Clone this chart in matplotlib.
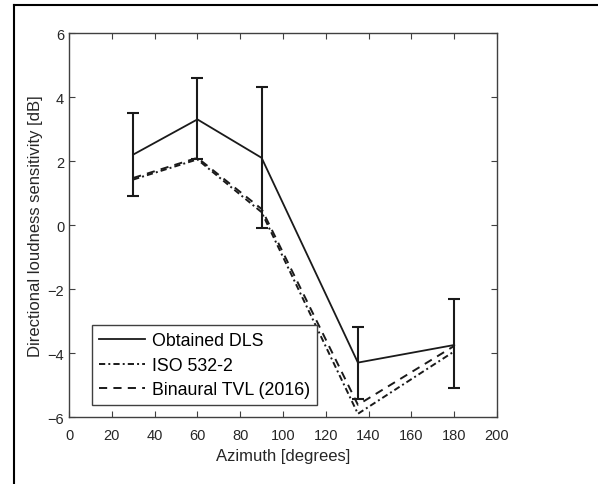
import matplotlib
matplotlib.use("Agg")
import matplotlib.pyplot as plt
from matplotlib.lines import Line2D

plt.rcParams['font.family'] = ['Liberation Sans', 'DejaVu Sans']

# 数据
azimuth = [30, 60, 90, 135, 180]
obtained = [2.2, 3.3, 2.1, -4.3, -3.75]
err_low = [0.9, 2.05, -0.1, -5.45, -5.1]
err_high = [3.5, 4.6, 4.3, -3.2, -2.3]
iso = [1.42, 2.05, 0.4, -5.9, -3.95]
binaural = [1.47, 2.1, 0.5, -5.62, -3.78]

fig = plt.figure(figsize=(5.98, 4.85), dpi=100)
ax = fig.add_axes([69 / 598, 1 - 418 / 485, 428 / 598, 384 / 485])

yerr = [[o - lo for o, lo in zip(obtained, err_low)],
        [hi - o for o, hi in zip(obtained, err_high)]]
ax.errorbar(azimuth, obtained, yerr=yerr, fmt='none', ecolor='#1a1a1a',
            elinewidth=1.5, capsize=4.4, capthick=1.5, zorder=2)
ax.plot(azimuth, obtained, '-', color='#1a1a1a', lw=1.3, label='Obtained DLS', zorder=3)
ax.plot(azimuth, iso, linestyle=(0, (3.2, 1.6, 1.0, 1.6)), color='#1a1a1a', lw=1.4,
        label='ISO 532-2', zorder=3)
ax.plot(azimuth, binaural, linestyle=(0, (4.2, 3.2)), color='#1a1a1a', lw=1.4,
        label='Binaural TVL (2016)', zorder=3)

ax.set_xlim(0, 200)
ax.set_ylim(-6, 6)
ax.set_xticks(range(0, 201, 20))
ax.set_yticks(range(-6, 7, 2))
ax.tick_params(direction='in', top=True, right=True, length=4, width=0.8,
               colors='#404040', labelcolor='#262626', labelsize=10.5)
ax.tick_params(axis='x', pad=8)
for s in ax.spines.values():
    s.set_color('#404040')
    s.set_linewidth(1.0)

ax.set_xlabel('Azimuth [degrees]', fontsize=12, color='#262626', labelpad=4)
ax.set_ylabel('Directional loudness sensitivity [dB]', fontsize=12, color='#262626', labelpad=3)

leg = ax.legend(loc='lower left', bbox_to_anchor=(0.054, 0.03), fontsize=12.8,
                fancybox=False, framealpha=1, edgecolor='#404040',
                handlelength=2.6, handletextpad=0.35, borderpad=0.4, labelspacing=0.42,
                borderaxespad=0)
leg.get_frame().set_linewidth(1.0)

# 外框
fig.add_artist(Line2D([14 / 598, 14 / 598], [0, 1 - 6 / 485], color='black', lw=1.5))
fig.add_artist(Line2D([14 / 598, 1], [1 - 6 / 485, 1 - 6 / 485], color='black', lw=1.5))

fig.savefig('out.png', dpi=100)
